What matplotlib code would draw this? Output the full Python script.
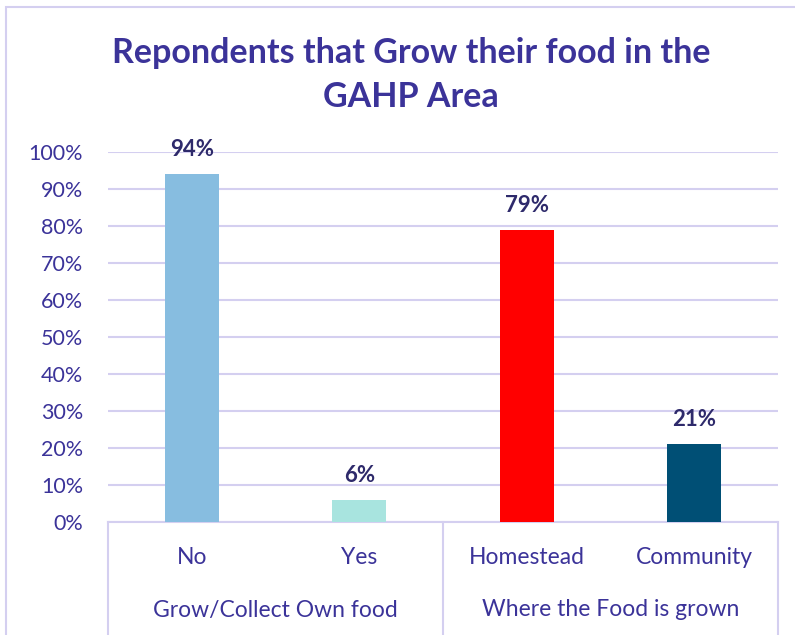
import matplotlib
matplotlib.use("Agg")
import matplotlib.pyplot as plt
from matplotlib.patches import Rectangle
from matplotlib.lines import Line2D
import matplotlib.transforms as mtransforms

plt.rcParams['font.family'] = ['Lato', 'DejaVu Sans']

title = "Repondents that Grow their food in the\nGAHP Area"
categories = ["No", "Yes", "Homestead", "Community"]
groups = ["Grow/Collect Own food", "Where the Food is grown"]
group_sizes = [2, 2]
values = [94, 6, 79, 21]
bar_colors = ["#87BDE0", "#A8E4DF", "#FF0000", "#004F75"]
yticks = list(range(0, 101, 10))
ytick_labels = [f"{t}%" for t in yticks]

text_color = "#3B3399"
label_color = "#2E2A6B"
grid_color = "#D4CFF0"

W, H = 795, 635
fig = plt.figure(figsize=(W / 100, H / 100), dpi=100)
fig.patches.append(Rectangle((6 / W, -0.1), 1.2, 1 - 7 / H + 0.1,
                             transform=fig.transFigure, fill=False,
                             edgecolor=grid_color, linewidth=1.5))

ax = fig.add_axes([108 / W, 1 - 522 / H, (778 - 108) / W, (522 - 152) / H])
x = list(range(len(categories)))
ax.bar(x, values, width=0.32, color=bar_colors, zorder=3)
ax.set_xlim(-0.5, len(categories) - 0.5)
ax.set_ylim(0, 100)
ax.set_yticks(yticks)
ax.set_yticklabels(ytick_labels, fontsize=15.5, color=text_color)
ax.tick_params(axis='y', length=0, pad=18)
ax.set_xticks([])
ax.grid(axis='y', color=grid_color, linewidth=1.5, zorder=0)
for s in ["top", "right", "left"]:
    ax.spines[s].set_visible(False)
ax.spines["bottom"].set_color(grid_color)
ax.spines["bottom"].set_linewidth(1.5)

for xi, v in zip(x, values):
    ax.annotate(f"{v}%", (xi, v), xytext=(0, 13), textcoords="offset points",
                ha="center", va="baseline", fontsize=16, fontweight="bold",
                color=label_color)

trans = mtransforms.blended_transform_factory(ax.transData, ax.transAxes)
ax_h = (522 - 152)
for xi, c in zip(x, categories):
    ax.text(xi, -36 / ax_h, c, transform=trans, ha="center", va="center",
            fontsize=16.5, color=text_color)

# group labels and separators
start = 0
bounds = [-0.5]
for g, n in zip(groups, group_sizes):
    center = start + (n - 1) / 2
    ax.text(center, -88 / ax_h, g, transform=trans, ha="center", va="center",
            fontsize=16.5, color=text_color)
    start += n
    bounds.append(start - 0.5)
for b in bounds:
    ax.add_line(Line2D([b, b], [0, -120 / ax_h], transform=trans,
                       color=grid_color, linewidth=1.5, clip_on=False))

fig.text(0.517, 1 - 75 / H, title, ha="center", va="center", fontsize=24.5,
         fontweight="bold", color=text_color, linespacing=1.45)

fig.savefig("out.png", dpi=100)
